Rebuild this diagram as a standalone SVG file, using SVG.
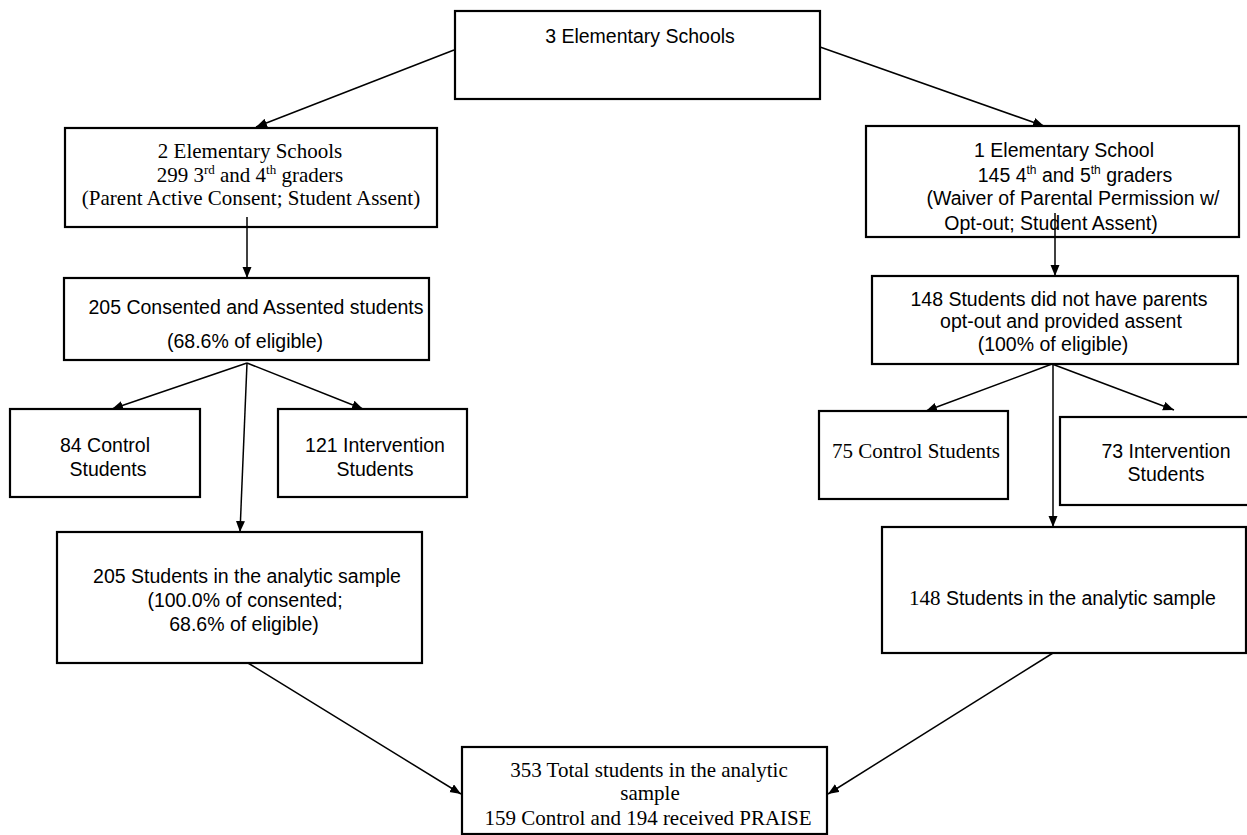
<svg xmlns="http://www.w3.org/2000/svg" width="1247" height="835" viewBox="0 0 1247 835">
<style>
.box{fill:#fff;stroke:#000;stroke-width:2.2}
.sans{font-family:"Liberation Sans",Arial,sans-serif;font-size:19.5px;fill:#000}
.serif{font-family:"Liberation Serif","Times New Roman",serif;font-size:21px;fill:#000}
.c{text-anchor:middle}
.ln{stroke:#000;stroke-width:1.5;fill:none;marker-end:url(#ah)}
</style>
<defs>
<marker id="ah" markerUnits="userSpaceOnUse" markerWidth="12" markerHeight="10" refX="11" refY="4.5" orient="auto">
<path d="M0,0 L11,4.5 L0,9 z" fill="#000"/>
</marker>
</defs>
<rect width="1247" height="835" fill="#fff"/>

<g id="n-top">
<rect class="box" x="455" y="11" width="365" height="88"/>
<text class="sans c" x="640" y="43">3 Elementary Schools</text>
</g>

<g id="n-left-schools">
<rect class="box" x="65" y="128" width="372" height="99"/>
<text class="serif c" x="250" y="158">2 Elementary Schools</text>
<text class="serif c" x="250" y="182">299 3<tspan font-size="13" dy="-8">rd</tspan><tspan dy="8"> and 4</tspan><tspan font-size="13" dy="-8">th</tspan><tspan dy="8"> graders</tspan></text>
<text class="serif c" x="251" y="205">(Parent Active Consent; Student Assent)</text>
</g>

<g id="n-left-consented">
<rect class="box" x="64" y="278" width="365" height="82"/>
<text class="sans c" x="256" y="314">205 Consented and Assented students</text>
<text class="sans c" x="245" y="348">(68.6% of eligible)</text>
</g>

<g id="n-left-control">
<rect class="box" x="10" y="409" width="190" height="88"/>
<text class="sans c" x="105" y="452">84 Control</text>
<text class="sans c" x="108" y="476">Students</text>
</g>

<g id="n-left-intervention">
<rect class="box" x="278" y="409" width="189" height="88"/>
<text class="sans c" x="375" y="452">121 Intervention</text>
<text class="sans c" x="375" y="476">Students</text>
</g>

<g id="n-left-analytic">
<rect class="box" x="57" y="532" width="365" height="131"/>
<text class="sans c" x="247" y="583">205 Students in the analytic sample</text>
<text class="sans c" x="245" y="607">(100.0% of consented;</text>
<text class="sans c" x="244" y="631">68.6% of eligible)</text>
</g>

<g id="n-right-school">
<rect class="box" x="866" y="126" width="373" height="111"/>
<text class="sans c" x="1064" y="157">1 Elementary School</text>
<text class="sans c" x="1075" y="182">145 4<tspan font-size="12" dy="-8">th</tspan><tspan dy="8"> and 5</tspan><tspan font-size="12" dy="-8">th</tspan><tspan dy="8"> graders</tspan></text>
<text class="sans c" x="1073" y="205">(Waiver of Parental Permission w/</text>
<text class="sans c" x="1051" y="230">Opt-out; Student Assent)</text>
</g>

<g id="n-right-optout">
<rect class="box" x="872" y="276" width="366" height="88"/>
<text class="sans c" x="1059" y="306">148 Students did not have parents</text>
<text class="sans c" x="1061" y="328">opt-out and provided assent</text>
<text class="sans c" x="1053" y="351">(100% of eligible)</text>
</g>

<g id="n-right-control">
<rect class="box" x="819" y="411" width="189" height="88"/>
<text class="serif c" x="916" y="458" font-size="19">75 Control Students</text>
</g>

<g id="n-right-intervention">
<rect class="box" x="1060" y="417" width="192" height="88"/>
<text class="sans c" x="1166" y="458">73 Intervention</text>
<text class="sans c" x="1166" y="481">Students</text>
</g>

<g id="n-right-analytic">
<rect class="box" x="882" y="527" width="364" height="126"/>
<text x="909" y="605"><tspan class="serif" font-size="19.5">148</tspan><tspan class="sans"> Students in the analytic sample</tspan></text>
</g>

<g id="n-total">
<rect class="box" x="462" y="747" width="365" height="87"/>
<text class="serif c" x="649" y="777">353 Total students in the analytic</text>
<text class="serif c" x="650" y="800">sample</text>
<text class="serif c" x="648" y="825">159 Control and 194 received PRAISE</text>
</g>

<g id="connectors">
<line class="ln" x1="454" y1="50" x2="256" y2="127"/>
<line class="ln" x1="820" y1="47" x2="1044" y2="126"/>
<line class="ln" x1="247" y1="217" x2="247" y2="278"/>
<line class="ln" x1="247" y1="363" x2="112" y2="409"/>
<line class="ln" x1="247" y1="363" x2="363" y2="409"/>
<line class="ln" x1="247" y1="363" x2="240" y2="532"/>
<line class="ln" x1="248" y1="663" x2="461" y2="794"/>
<line class="ln" x1="1055" y1="213" x2="1055" y2="276"/>
<line class="ln" x1="1052" y1="364" x2="926" y2="411"/>
<line class="ln" x1="1052" y1="364" x2="1174" y2="410"/>
<line class="ln" x1="1053" y1="364" x2="1053" y2="527"/>
<line class="ln" x1="1053" y1="653" x2="828" y2="794"/>
</g>
</svg>
